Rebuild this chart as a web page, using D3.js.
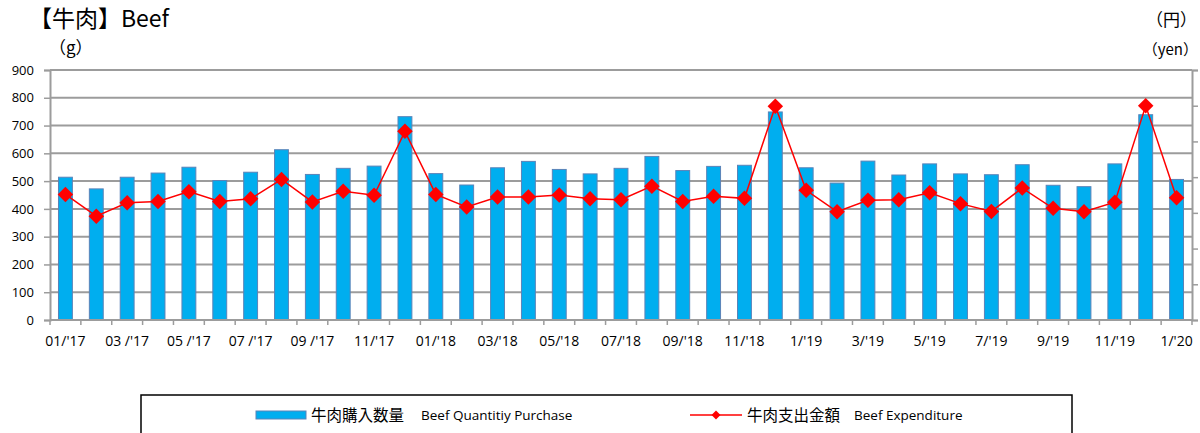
<!DOCTYPE html>
<html>
<head>
<meta charset="utf-8">
<script src="https://cdn.jsdelivr.net/npm/d3@7"></script>
<style>
  body { margin: 0; background: #fff; }
  text { font-family: "Open Sans", "Noto Sans CJK JP", sans-serif; fill: #000; }
  .cjk { font-family: "Noto Sans CJK JP", sans-serif; }
</style>
</head>
<body>
<script>
// Chart data
var months = ["01/'17","02/'17","03 /'17","04/'17","05 /'17","06/'17","07 /'17","08/'17","09 /'17","10/'17","11/'17","12/'17",
  "01/'18","02/'18","03/'18","04/'18","05/'18","06/'18","07/'18","08/'18","09/'18","10/'18","11/'18","12/'18",
  "1/'19","2/'19","3/'19","4/'19","5/'19","6/'19","7/'19","8/'19","9/'19","10/'19","11/'19","12/'19","1/'20"];

// beef quantity purchased (g)
var quantity = [514, 472, 514, 529, 550, 502, 532, 613, 524, 546, 554, 732,
  527, 486, 548, 571, 542, 526, 546, 589, 538, 553, 557, 749,
  548, 493, 572, 522, 562, 526, 523, 559, 485, 480, 562, 739, 506];

// beef expenditure (yen)
var expenditure = [1758, 1454, 1641, 1660, 1797, 1660, 1696, 1968, 1653, 1801, 1746, 2641,
  1758, 1583, 1723, 1723, 1750, 1696, 1684, 1874, 1660, 1734, 1703, 2994,
  1816, 1517, 1676, 1684, 1781, 1629, 1520, 1847, 1563, 1517, 1649, 2998, 1711];

var leftTicks = [0, 100, 200, 300, 400, 500, 600, 700, 800, 900];
var rightTicks = [0, 500, 1000, 1500, 2000, 2500, 3000, 3500];

var svgWidth = 1200;
var svgHeight = 433;

var margin = { top: 70, right: 8, bottom: 113, left: 50 };
var chartWidth = svgWidth - margin.left - margin.right;
var chartHeight = svgHeight - margin.top - margin.bottom;

var svg = d3.select("body")
  .append("svg")
  .attr("width", svgWidth)
  .attr("height", svgHeight);

var chartGroup = svg.append("g")
  .attr("transform", `translate(${margin.left}, ${margin.top})`);

var xBandScale = d3.scaleBand()
  .domain(months)
  .range([0, chartWidth])
  .paddingInner(0.55)
  .paddingOuter(0.275);

var yLeftScale = d3.scaleLinear().domain([0, 900]).range([chartHeight, 0]);
var yRightScale = d3.scaleLinear().domain([0, 3500]).range([chartHeight, 0]);

// gridlines
chartGroup.append("g")
  .selectAll("line")
  .data(leftTicks.slice(1))
  .enter()
  .append("line")
  .attr("x1", 0)
  .attr("x2", chartWidth)
  .attr("y1", d => yLeftScale(d))
  .attr("y2", d => yLeftScale(d))
  .attr("stroke", "#9c9c9c")
  .attr("stroke-width", 2);

// left axis
var leftAxis = d3.axisLeft(yLeftScale).tickValues(leftTicks).tickSize(6).tickPadding(10);
var leftG = chartGroup.append("g").call(leftAxis);
leftG.selectAll("text").style("font-size", "13px");

// right axis (its labels sit beyond the window edge in the reference)
var rightAxis = d3.axisRight(yRightScale).tickValues(rightTicks).tickSize(6).tickFormat("");
var rightG = chartGroup.append("g")
  .attr("transform", `translate(${chartWidth}, 0)`)
  .call(rightAxis);

// bottom axis: ticks between categories
var step = xBandScale.step();
var bottomG = chartGroup.append("g")
  .attr("transform", `translate(0, ${chartHeight})`);
bottomG.selectAll("line.tick")
  .data(d3.range(months.length + 1))
  .enter()
  .append("line")
  .attr("x1", i => i * step)
  .attr("x2", i => i * step)
  .attr("y1", 0)
  .attr("y2", 5)
  .attr("stroke", "#9c9c9c")
  .attr("stroke-width", 1.5);
bottomG.selectAll("text")
  .data(months.filter((m, i) => i % 2 === 0))
  .enter()
  .append("text")
  .attr("x", d => xBandScale(d) + xBandScale.bandwidth() / 2)
  .attr("y", 26)
  .attr("text-anchor", "middle")
  .style("font-size", "14px")
  .text(d => d);

// axis styling
[leftG, rightG].forEach(function(g) {
  g.select(".domain").attr("stroke", "#9c9c9c").attr("stroke-width", 2);
  g.selectAll(".tick line").attr("stroke", "#9c9c9c").attr("stroke-width", 1.5);
});

// bars
chartGroup.selectAll("rect.bar")
  .data(quantity)
  .enter()
  .append("rect")
  .attr("class", "bar")
  .attr("x", (d, i) => xBandScale(months[i]))
  .attr("y", d => yLeftScale(d))
  .attr("width", xBandScale.bandwidth())
  .attr("height", d => chartHeight - yLeftScale(d))
  .attr("fill", "#00aeef")
  .attr("stroke", "#5b83b8")
  .attr("stroke-width", 1);

// bottom baseline
chartGroup.append("line")
  .attr("x1", 0).attr("x2", chartWidth)
  .attr("y1", chartHeight).attr("y2", chartHeight)
  .attr("stroke", "#9c9c9c")
  .attr("stroke-width", 2);

// expenditure line
var drawLine = d3.line()
  .x((d, i) => xBandScale(months[i]) + xBandScale.bandwidth() / 2)
  .y(d => yRightScale(d));

chartGroup.append("path")
  .attr("d", drawLine(expenditure))
  .attr("fill", "none")
  .attr("stroke", "#ff0000")
  .attr("stroke-width", 1.5);

var diamond = d3.symbol().type(d3.symbolSquare).size(120);
chartGroup.selectAll("path.marker")
  .data(expenditure)
  .enter()
  .append("path")
  .attr("class", "marker")
  .attr("d", diamond)
  .attr("transform", (d, i) => `translate(${xBandScale(months[i]) + xBandScale.bandwidth() / 2}, ${yRightScale(d)}) rotate(45)`)
  .attr("fill", "#ff0000");

// titles
svg.append("text")
  .attr("x", 29)
  .attr("y", 27)
  .attr("class", "cjk")
  .style("font-size", "23px")
  .text("【牛肉】Beef");

svg.append("text")
  .attr("x", 49)
  .attr("y", 54)
  .attr("class", "cjk")
  .style("font-size", "17px")
  .text("（g）");

svg.append("text")
  .attr("x", 1146)
  .attr("y", 26)
  .attr("class", "cjk")
  .style("font-size", "17px")
  .text("（円）");

svg.append("text")
  .attr("x", 1198)
  .attr("y", 55)
  .attr("text-anchor", "end")
  .attr("class", "cjk")
  .style("font-size", "15px")
  .text("（yen）");

// legend
var legend = svg.append("g");
legend.append("rect")
  .attr("x", 141)
  .attr("y", 395)
  .attr("width", 931)
  .attr("height", 60)
  .attr("fill", "#fff")
  .attr("stroke", "#000")
  .attr("stroke-width", 1.5);

legend.append("rect")
  .attr("x", 256)
  .attr("y", 411)
  .attr("width", 50)
  .attr("height", 8)
  .attr("fill", "#00aeef")
  .attr("stroke", "#5b83b8")
  .attr("stroke-width", 1);

legend.append("text")
  .attr("x", 311)
  .attr("y", 421)
  .attr("class", "cjk")
  .style("font-size", "15.5px")
  .text("牛肉購入数量");

legend.append("text")
  .attr("x", 421)
  .attr("y", 420)
  .style("font-size", "13.5px")
  .text("Beef Quantitiy Purchase");

legend.append("line")
  .attr("x1", 690).attr("x2", 742)
  .attr("y1", 415).attr("y2", 415)
  .attr("stroke", "#ff0000")
  .attr("stroke-width", 1.5);

legend.append("path")
  .attr("d", d3.symbol().type(d3.symbolSquare).size(40))
  .attr("transform", "translate(716, 415) rotate(45)")
  .attr("fill", "#ff0000");

legend.append("text")
  .attr("x", 747)
  .attr("y", 421)
  .attr("class", "cjk")
  .style("font-size", "15.5px")
  .text("牛肉支出金額");

legend.append("text")
  .attr("x", 854)
  .attr("y", 420)
  .style("font-size", "13.5px")
  .text("Beef Expenditure");
</script>
</body>
</html>
